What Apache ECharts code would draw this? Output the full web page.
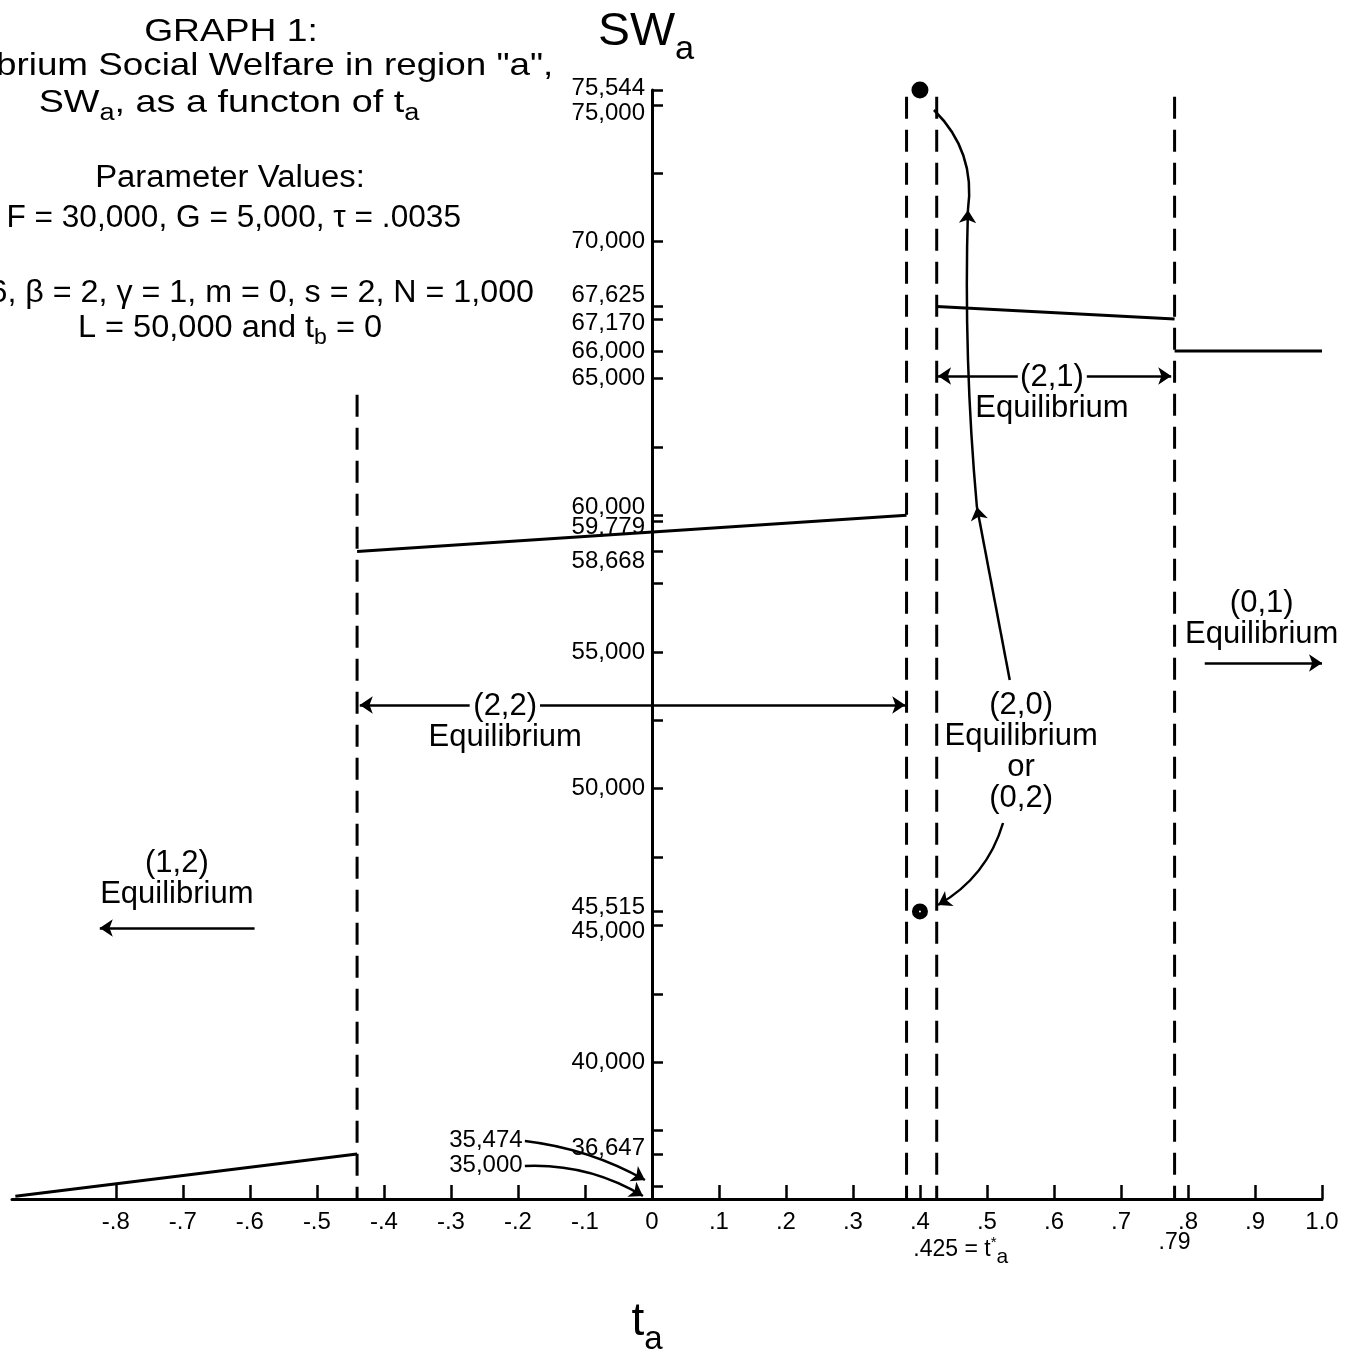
<!DOCTYPE html>
<html lang="en">
<head>
<meta charset="UTF-8">
<title>Graph 1 - Social Welfare SWa</title>
<script src="https://cdn.jsdelivr.net/npm/echarts@6.0.0/dist/echarts.min.js"></script>
<style>
    html, body { margin: 0; padding: 0; background: #fff; }
    #chart { width: 1347px; height: 1353px; }
</style>
</head>
<body>
<div id="chart"></div>
<script type="text/javascript">
    // axis ticks and labels
    var xTicks = [-0.8, -0.7, -0.6, -0.5, -0.4, -0.3, -0.2, -0.1, 0, 0.1, 0.2, 0.3, 0.4, 0.5, 0.6, 0.7, 0.8, 0.9, 1.0];
    var yTicks = [35474, 36647, 37500, 40000, 42500, 45000, 45515, 47500, 50000, 52500, 55000, 57500,
        58668, 59779, 60000, 62500, 65000, 66000, 67170, 67625, 70000, 72500, 75000, 75544];
    var yLabels = [36647, 40000, 45000, 45515, 50000, 55000, 58668, 59779, 60000,
        65000, 66000, 67170, 67625, 70000, 75000, 75544];
    var extraT = [0.425, 0.78];
    var extraTLabels = ['.425 = t', '.79'];

    // SW_a in each equilibrium region, [t_a, SW_a]
    var seg12 = [[-0.95, 35100], [-0.44, 36647]];
    var seg22 = [[-0.44, 58668], [0.38, 60000]];
    var seg21 = [[0.425, 67625], [0.78, 67170]];
    var seg01 = [[0.78, 66000], [1.0, 66000]];

    // region boundaries: t_a and top of the dashed line
    var boundT = [-0.44, 0.38, 0.425, 0.78];
    var boundTop = [64400, 75300, 75300, 75300];

    var dotHigh = [0.4, 75544];
    var dotLow = [0.4, 45515];

    // annotation texts, anchored in data units
    var regionNames = ['(2,2)\nEquilibrium', '(2,1)\nEquilibrium', '(0,1)\nEquilibrium',
        '(1,2)\nEquilibrium', '(2,0)\nEquilibrium\nor\n(0,2)'];
    var regionAt = [[-0.219, 52440], [0.597, 64467], [0.910, 56204], [-0.709, 46699], [0.551, 51342]];
    var noteNames = ['35,474', '35,000'];
    var noteAt = [[-0.19, 37157], [-0.19, 36243]];

    // arrows: [from, to], curveness, arrow head at the end or not
    var arrowFrom = [[-0.272, 53061], [-0.167, 53061], [0.546, 65089], [0.649, 65089],
        [0.825, 54596], [-0.593, 44908],
        [0.534, 53975], [0.485, 60299], [0.4716, 71157],
        [0.524, 48746], [-0.1896, 37120], [-0.1896, 36206]];
    var arrowTo = [[-0.436, 53061], [0.378, 53061], [0.427, 65089], [0.775, 65089],
        [1.0, 54596], [-0.824, 44908],
        [0.485, 60299], [0.4716, 71157], [0.4209, 74813],
        [0.427, 45749], [-0.0104, 35695], [-0.0134, 35110]];
    var arrowBend = [0, 0, 0, 0, 0, 0, 0, 0.03, -0.25, 0.2, 0.1, 0.15];
    var arrowHead = [1, 1, 1, 1, 1, 1, 1, 1, 0, 1, 1, 1];

    // small vertical nudges (px) so the crowded y labels stay readable
    var yLabelShift = {75544: -2, 75000: 8, 67625: -11, 67170: 4, 66000: 0,
        60000: -8, 59779: 6, 58668: 10, 45515: -4, 45000: 6, 36647: -6};

    var FONT = '"Liberation Sans", Arial, Helvetica, sans-serif';
    var INK = '#000';

    function thousands(v) {
        return String(v).replace(/\B(?=(\d{3})+(?!\d))/g, ',');
    }

    function tLabel(v) {
        if (v === 0) return '0';
        if (v === 1) return '1.0';
        return v.toFixed(1).replace('0.', '.');
    }

    var yRich = {};
    Object.keys(yLabelShift).forEach(function (k) {
        var d = yLabelShift[k];
        yRich['s' + k] = {
            fontSize: 24, fontFamily: FONT, color: INK,
            padding: d < 0 ? [0, 0, -2 * d, 0] : [2 * d, 0, 0, 0]
        };
    });

    var myChart = echarts.init(document.getElementById('chart'));

    var series = [];
    [seg12, seg22, seg21, seg01].forEach(function (seg) {
        series.push({
            type: 'line', data: seg, showSymbol: false, symbol: 'none',
            lineStyle: {color: INK, width: 3}, z: 3, silent: true
        });
    });
    boundT.forEach(function (t, i) {
        series.push({
            type: 'line', data: [[t, boundTop[i]], [t, 35000]], showSymbol: false, symbol: 'none',
            lineStyle: {color: INK, width: 3, type: [22, 11]}, z: 2, silent: true
        });
    });
    series.push({
        type: 'scatter', symbolSize: 17, z: 5, silent: true,
        itemStyle: {color: INK, opacity: 1},
        data: [dotHigh]
    });
    series.push({
        type: 'scatter', symbolSize: 9, z: 5, silent: true,
        itemStyle: {color: '#fff', borderColor: INK, borderWidth: 7, opacity: 1},
        data: [dotLow]
    });

    var arrowData = [];
    for (var i = 0; i < arrowFrom.length; i++) {
        arrowData.push({
            coords: [arrowFrom[i], arrowTo[i]],
            symbol: ['none', arrowHead[i] ? 'arrow' : 'none'],
            lineStyle: {curveness: arrowBend[i]}
        });
    }
    series.push({
        type: 'lines', coordinateSystem: 'cartesian2d', z: 4, silent: true,
        symbol: ['none', 'arrow'], symbolSize: 13,
        lineStyle: {color: INK, width: 2.5, opacity: 1},
        data: arrowData
    });

    var labelBase = {show: true, formatter: '{b}', color: INK, fontFamily: FONT,
        textBorderWidth: 0, textShadowBlur: 0, opacity: 1};
    var textData = [];
    regionNames.forEach(function (n, i) {
        textData.push({
            name: n, value: regionAt[i],
            label: Object.assign({}, labelBase, {position: 'inside', align: 'center',
                verticalAlign: 'middle', lineHeight: 31, fontSize: 31})
        });
    });
    noteNames.forEach(function (n, i) {
        textData.push({
            name: n, value: noteAt[i],
            label: Object.assign({}, labelBase, {position: 'left', distance: 2, fontSize: 24})
        });
    });
    series.push({
        type: 'scatter', symbolSize: 0, z: 6, silent: true, clip: false,
        itemStyle: {color: INK},
        label: labelBase,
        data: textData
    });

    function caption(x, y, text, size, align, sx, rich) {
        var st = {text: text, font: size + 'px ' + FONT, fill: INK, align: align, verticalAlign: 'middle'};
        if (rich) st.rich = rich;
        return {type: 'text', x: x, y: y, scaleX: sx, scaleY: 1, style: st};
    }
    var subA = {s: {fontSize: 23, fontFamily: FONT, fill: INK, padding: [22, 0, 0, 0]}};
    var subB = {s: {fontSize: 22, fontFamily: FONT, fill: INK, padding: [20, 0, 0, 0]}};
    var bigSub = {s: {fontSize: 33, fontFamily: FONT, fill: INK, padding: [36, 0, 0, 0]}};

    var option = {
        animation: false,
        backgroundColor: '#fff',
        grid: {left: 12, right: 25, top: 90, bottom: 154, containLabel: false, outerBoundsMode: 'none'},
        xAxis: [{
            type: 'value', min: -0.955, max: 1.0,
            axisLine: {show: true, onZero: false, lineStyle: {color: INK, width: 3}},
            axisTick: {show: true, inside: true, length: 14, customValues: xTicks, lineStyle: {color: INK, width: 2.5}},
            axisLabel: {
                customValues: xTicks, margin: 11, color: INK, fontSize: 24, fontFamily: FONT,
                formatter: tLabel
            },
            splitLine: {show: false}
        }, {
            type: 'value', min: -0.955, max: 1.0, position: 'bottom',
            axisLine: {show: false}, axisTick: {show: false}, splitLine: {show: false},
            axisLabel: {
                customValues: extraT, margin: 32, color: INK, fontSize: 23, fontFamily: FONT,
                formatter: function (v) {
                    var k = extraT.indexOf(v);
                    if (k === 0) return '{p|' + extraTLabels[0] + '}{sup|*}{sub|a}';
                    return extraTLabels[k] || '';
                },
                rich: {
                    p: {fontSize: 23, fontFamily: FONT, color: INK, padding: [0, 0, 0, 48]},
                    sup: {fontSize: 15, fontFamily: FONT, color: INK, padding: [0, 0, 14, 0]},
                    sub: {fontSize: 21, fontFamily: FONT, color: INK, padding: [16, 0, 0, 0]}
                }
            }
        }],
        yAxis: {
            type: 'value', min: 35000, max: 75544, offset: -640,
            axisLine: {show: true, onZero: false, lineStyle: {color: INK, width: 3}},
            axisTick: {show: true, inside: true, length: 11, customValues: yTicks, lineStyle: {color: INK, width: 2.5}},
            axisLabel: {
                customValues: yLabels, margin: 7, color: INK, fontSize: 24, fontFamily: FONT,
                formatter: function (v) {
                    var s = thousands(v);
                    return yLabelShift[v] !== undefined ? '{s' + v + '|' + s + '}' : s;
                },
                rich: yRich
            },
            splitLine: {show: false}
        },
        graphic: [
            caption(231, 32, 'GRAPH 1:', 31, 'center', 1.2),
            caption(-4, 66, 'brium Social Welfare in region "a",', 32, 'left', 1.15),
            caption(229, 103, 'SW{s|a}, as a functon of t{s|a}', 32, 'center', 1.18, subA),
            caption(230, 178, 'Parameter Values:', 31, 'center', 1.06),
            caption(461, 218, 'F = 30,000, G = 5,000, \u03c4 = .0035', 31, 'right', 1.02),
            caption(534, 293, '6, \u03b2 = 2, \u03b3 = 1, m = 0, s = 2, N = 1,000', 31, 'right', 1.04),
            caption(230, 328, 'L = 50,000 and t{s|b} = 0', 31, 'center', 1.05, subB),
            caption(598, 32, 'SW{s|a}', 46, 'left', 1.04, bigSub),
            caption(647, 1322, 't{s|a}', 46, 'center', 1.0, bigSub)
        ],
        series: series
    };
    myChart.setOption(option);
</script>
</body>
</html>
